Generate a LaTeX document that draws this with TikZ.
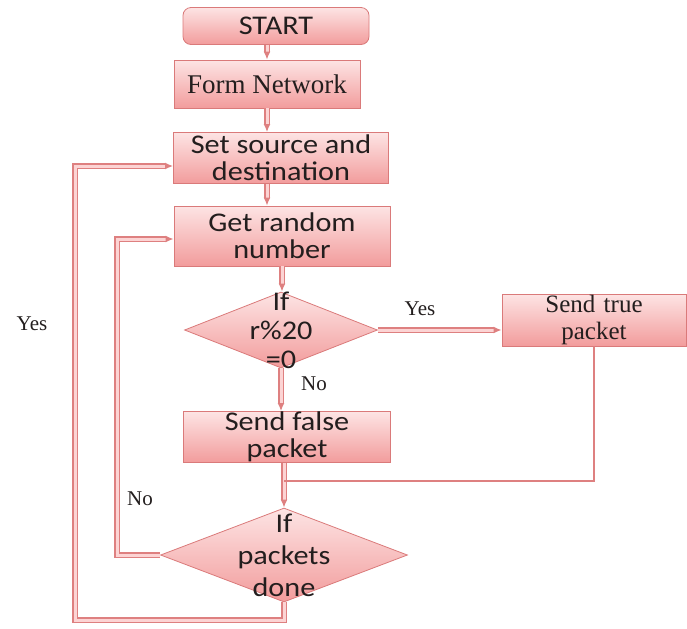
\documentclass[tikz,border=0pt]{standalone}
\usepackage{fontspec}
\setmainfont{Carlito}[FakeStretch=1.12]
\newfontfamily\serifrm{Liberation Serif}
\usetikzlibrary{arrows.meta,shapes.geometric}

\definecolor{boxtop}{RGB}{253,228,228}
\definecolor{boxbot}{RGB}{242,156,156}
\definecolor{boxline}{RGB}{218,122,122}
\definecolor{lineout}{RGB}{222,128,128}
\definecolor{linein}{RGB}{252,212,212}
\definecolor{txt}{RGB}{35,30,30}

\tikzset{
  block/.style={draw=boxline,top color=boxtop,bottom color=boxbot,text=txt,
                align=center,inner sep=0pt,font=\fontsize{13.5}{13.5}\selectfont},
  decision/.style={diamond,draw=boxline,top color=boxtop,bottom color=boxbot,inner sep=0pt},
  dtext/.style={text=txt,align=center,inner sep=0pt,font=\fontsize{13.5}{14.5}\selectfont},
  flow/.style={draw=lineout,double=linein,double distance=1.5pt,line width=0.75pt},
  tip/.style={-{Latex[length=4pt,width=3.5pt]}},
  side/.style={draw=lineout,line width=0.8pt},
  lbl/.style={text=txt,font=\serifrm\fontsize{10.5}{12}\selectfont}
}

\begin{document}
\begin{tikzpicture}[x=0.5pt,y=-0.5pt]
\useasboundingbox (0,0) rectangle (687,628);

% boxes
\node[block,rounded corners=4pt,minimum width=93pt,minimum height=18.5pt] (start) at (276,26) {START};
\node[block,minimum width=93pt,minimum height=24pt,font=\serifrm\fontsize{13.5}{14}\selectfont] (form) at (267,84) {Form Network};
\node[block,minimum width=107.5pt,minimum height=25.5pt] (set) at (281,158) {Set source and\\destination};
\node[block,minimum width=108pt,minimum height=30pt] (get) at (282,236) {Get random\\number};
\node[decision,minimum width=96.5pt,minimum height=38pt] (dia1) at (281,330) {};
\node[dtext] (dia1t) at (dia1) {If\\r\%20\\=0};
\node[block,minimum width=92pt,minimum height=26pt,font=\serifrm\fontsize{12.5}{13.5}\selectfont] (true) at (594,320) {Send\,\,true\\packet};
\node[block,minimum width=103.5pt,minimum height=25.5pt] (false) at (287,437) {Send false\\packet};
\node[decision,minimum width=123.5pt,minimum height=47pt] (dia2) at (284,555) {};
\node[dtext,font=\fontsize{13.5}{16}\selectfont] (dia2t) at (dia2) {If\\packets\\done};

% turning points
\coordinate (inner) at (117,555);
\coordinate (outer) at (75,620);
\coordinate (merge) at (284,481);

% main column
\draw[flow,tip] (start.south -| form) -- (form.north);
\draw[flow,tip] (form.south) -- (set.north -| form);
\draw[flow,tip] (set.south -| form) -- (get.north -| form);
\draw[flow,tip] (get) -- (get |- dia1.north);
\draw[flow,tip] (dia1.south) -- (dia1.south |- false.north);
\draw[flow,tip] (false.south -| dia2) -- (dia2.north);
\draw[flow,tip] (dia1.east) -- (dia1.east -| true.west);

% loops back
\draw[flow,tip] (dia2.west) -- (inner) |- ([yshift=-1.5pt]get.west);
\draw[flow,tip] (dia2.south) -- (dia2.south |- outer) -- (outer) |- ([yshift=-4pt]set.west);
\draw[side] (true.south) -- (true.south |- merge) -- (merge);

% labels
\node[lbl] (yes1) at (420,309) {Yes};
\node[lbl] (yes2) at (32,324) {Yes};
\node[lbl] (no1) at (314,384) {No};
\node[lbl] (no2) at (140,499) {No};
\end{tikzpicture}
\end{document}
